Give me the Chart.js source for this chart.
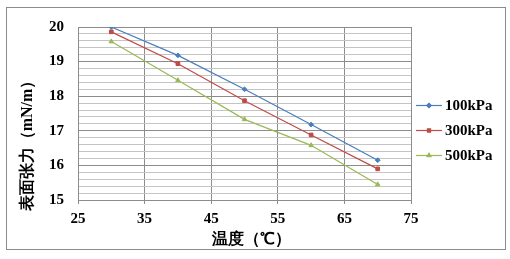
<!DOCTYPE html>
<html>
<head>
<meta charset="utf-8">
<script src="https://cdn.jsdelivr.net/npm/chart.js@4"></script>
<style>
  body { margin: 0; background: #fff; }
  #wrap { width: 510px; height: 259px; }
</style>
</head>
<body>
<div id="wrap"><canvas id="surfaceChart" width="510" height="259"></canvas></div>
<script>
// temperature (°C)
const temps = [30, 40, 50, 60, 70];
const labels = ['100kPa', '300kPa', '500kPa'];
const p100 = [20.0, 19.18, 18.2, 17.18, 16.15];
const p300 = [19.86, 18.94, 17.87, 16.88, 15.9];
const p500 = [19.58, 18.46, 17.33, 16.58, 15.45];
const colors = ['#4a7ebb', '#be4b48', '#98b954'];
const markers = ['rectRot', 'rect', 'triangle'];

const serif = '"Liberation Serif", "Times New Roman", serif';

const series = [p100, p300, p500].map((vals, i) => ({
  label: labels[i],
  data: temps.map((t, j) => ({ x: t, y: vals[j] })),
  borderColor: colors[i],
  backgroundColor: colors[i],
  borderWidth: 1.2,
  showLine: true,
  pointStyle: markers[i],
  pointRadius: i === 0 ? 2.4 : 2.6,
  pointBorderWidth: 1,
  tension: 0
}));

// custom legend + axis titles, drawn like Excel
const extras = {
  id: 'extras',
  afterDraw(chart) {
    const c = chart.ctx;
    c.save();
    // outer border
    c.strokeStyle = '#8c8c8c';
    c.lineWidth = 1;
    c.strokeRect(6.5, 7.5, 499, 242);

    // legend
    c.font = 'bold 15px ' + serif;
    c.textBaseline = 'middle';
    c.textAlign = 'left';
    chart.data.datasets.forEach((ds, i) => {
      const y = 105 + i * 25;
      c.strokeStyle = ds.borderColor;
      c.lineWidth = 1.2;
      c.beginPath();
      c.moveTo(416, y + 0.5);
      c.lineTo(442, y + 0.5);
      c.stroke();
      Chart.helpers.drawPoint(c, {
        pointStyle: ds.pointStyle,
        radius: 2.2,
        borderWidth: 1,
        rotation: 0
      }, 429, y + 0.5);
      c.fillStyle = ds.borderColor;
      c.fill();
      c.fillStyle = '#000';
      c.fillText(ds.label, 445, y + 1);
    });

    // axis titles
    c.fillStyle = '#000';
    c.font = 'bold 16px ' + serif;
    c.textAlign = 'center';
    c.fillText('温度（℃）', 251, 240);
    c.translate(28, 142);
    c.rotate(-Math.PI / 2);
    c.fillText('表面张力（mN/m）', 0, 0);
    c.restore();
  }
};

new Chart(document.getElementById('surfaceChart'), {
  type: 'scatter',
  data: { datasets: series },
  options: {
    responsive: false,
    animation: false,
    layout: { padding: { top: 27, right: 99, left: 0, bottom: 0 } },
    plugins: { legend: { display: false }, tooltip: { enabled: false } },
    scales: {
      x: {
        type: 'linear',
        min: 25,
        max: 75,
        ticks: {
          stepSize: 10,
          color: '#000',
          font: { family: serif, size: 15, weight: 'bold' },
          padding: 6
        },
        grid: {
          color: '#8c8c8c',
          lineWidth: 1,
          tickLength: 4
        },
        border: { color: '#8c8c8c' },
        afterFit(scale) { scale.height = 59; }
      },
      y: {
        min: 15,
        max: 20,
        ticks: {
          stepSize: 0.2,
          autoSkip: false,
          color: '#000',
          font: { family: serif, size: 15, weight: 'bold' },
          padding: 14,
          callback: v => (Math.abs(v - Math.round(v)) < 1e-6 ? Math.round(v) : '')
        },
        grid: {
          drawTicks: false,
          color: ctx => {
            const v = ctx.tick ? ctx.tick.value : 0;
            return Math.abs(v - Math.round(v)) < 1e-6 ? '#8c8c8c' : '#c4c4c4';
          },
          lineWidth: 1
        },
        border: { color: '#8c8c8c' },
        afterFit(scale) { scale.width = 78; }
      }
    }
  },
  plugins: [extras]
});
</script>
</body>
</html>
